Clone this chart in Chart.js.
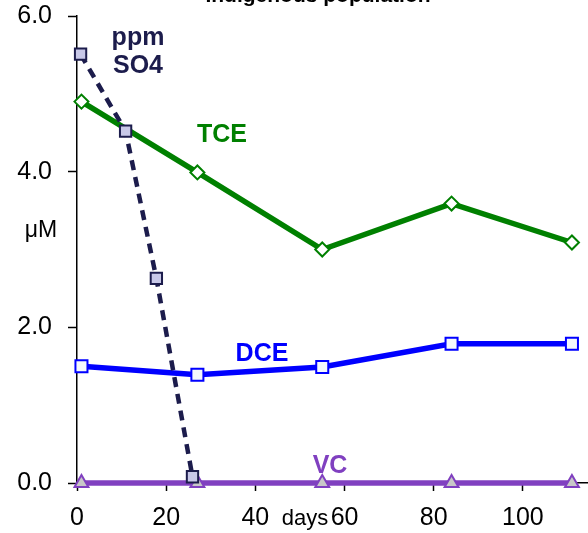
<!DOCTYPE html>
<html>
<head>
<meta charset="utf-8">
<script src="https://cdn.jsdelivr.net/npm/chart.js@4"></script>
<style>
  html, body { margin: 0; padding: 0; background: #fff; }
  #wrap { width: 588px; height: 533px; }
</style>
</head>
<body>
<div id="wrap"><canvas id="c" width="588" height="533"></canvas></div>
<script>
// data
const days = [1, 27, 55, 84, 111];
const tce = [4.9, 3.99, 3.0, 3.59, 3.09];
const dce = [1.5, 1.39, 1.49, 1.79, 1.79];
const vc = [0, 0, 0, 0, 0];
const so4Days = [0.8, 10.9, 17.8, 25.9];
const so4 = [5.51, 4.52, 2.63, 0.08];
const yTicks = [0, 2, 4, 6];

const pts = (xs, ys) => xs.map((x, i) => ({ x: x, y: ys[i] }));

const FONT = "'Liberation Sans', Arial, sans-serif";

// free text labels drawn on the canvas
const labelsPlugin = {
  id: "labels",
  afterDraw(chart) {
    const ctx = chart.ctx;
    ctx.save();
    ctx.textAlign = "center";

    ctx.font = "bold 21px " + FONT;
    ctx.fillStyle = "#000";
    ctx.textBaseline = "alphabetic";
    ctx.fillText("Indigenous population", 318, 2);

    ctx.textBaseline = "middle";
    ctx.font = "bold 25px " + FONT;
    ctx.fillStyle = "#1c1c4c";
    ctx.fillText("ppm", 138, 38);
    ctx.fillText("SO4", 138, 66);
    ctx.fillStyle = "#008000";
    ctx.fillText("TCE", 222, 135);
    ctx.fillStyle = "#0000ff";
    ctx.fillText("DCE", 262, 354);
    ctx.fillStyle = "#8040c0";
    ctx.fillText("VC", 330, 466);

    ctx.fillStyle = "#000";
    ctx.font = "23px " + FONT;
    ctx.fillText("\u03bcM", 41, 231);
    ctx.font = "22px " + FONT;
    ctx.fillText("days", 305, 519);
    ctx.restore();
  }
};

new Chart(document.getElementById("c"), {
  type: "scatter",
  data: {
    datasets: [
      {
        label: "SO4",
        data: pts(so4Days, so4),
        showLine: true,
        borderColor: "#1c1c4c",
        borderWidth: 4.5,
        borderDash: [10, 7],
        pointStyle: "rect",
        pointRadius: 8,
        pointBackgroundColor: "#c8c8e8",
        pointBorderColor: "#1c1c4c",
        pointBorderWidth: 2,
      },
      {
        label: "TCE",
        data: pts(days, tce),
        showLine: true,
        borderColor: "#008000",
        borderWidth: 5.5,
        pointStyle: "rectRot",
        pointRadius: 7,
        pointBackgroundColor: "#ffffff",
        pointBorderColor: "#008000",
        pointBorderWidth: 2,
      },
      {
        label: "DCE",
        data: pts(days, dce),
        showLine: true,
        borderColor: "#0000ff",
        borderWidth: 5.5,
        pointStyle: "rect",
        pointRadius: 8.5,
        pointBackgroundColor: "#f4f8fc",
        pointBorderColor: "#0000ff",
        pointBorderWidth: 2,
      },
      {
        label: "VC",
        data: pts(days, vc),
        showLine: true,
        borderColor: "#8040c0",
        borderWidth: 5.5,
        pointStyle: "triangle",
        pointRadius: 8,
        pointBackgroundColor: "#c8c8c8",
        pointBorderColor: "#8040c0",
        pointBorderWidth: 2,
      },
    ],
  },
  options: {
    responsive: false,
    animation: false,
    clip: false,
    layout: { autoPadding: false, padding: { top: 16, right: 0, left: 0, bottom: 0 } },
    plugins: {
      legend: { display: false },
      tooltip: { enabled: false },
    },
    scales: {
      x: {
        type: "linear",
        min: 0,
        max: 114.6,
        afterFit: (s) => {
          s.height = 50;
          s.paddingLeft = 0; s.paddingRight = 0;
        },
        ticks: {
          stepSize: 20,
          includeBounds: false,
          color: "#000",
          padding: 12,
          maxRotation: 0,
          font: { family: FONT, size: 25 },
        },
        grid: { drawOnChartArea: false, drawTicks: true, tickLength: 8, tickColor: "#000", tickWidth: 1.5 },
        border: { display: true, color: "#000", width: 1.5 },
      },
      y: {
        min: 0,
        max: 6,
        afterFit: (s) => {
          s.width = 77;
          s.paddingTop = 0; s.paddingBottom = 0;
        },
        afterBuildTicks: (s) => { s.ticks = yTicks.map((v) => ({ value: v })); },
        ticks: {
          color: "#000",
          padding: 16,
          callback: (v) => v.toFixed(1),
          font: { family: FONT, size: 25 },
        },
        grid: { drawOnChartArea: false, drawTicks: true, tickLength: 9, tickColor: "#000", tickWidth: 1.5 },
        border: { display: true, color: "#000", width: 1.5 },
      },
    },
  },
  plugins: [labelsPlugin],
});
</script>
</body>
</html>
